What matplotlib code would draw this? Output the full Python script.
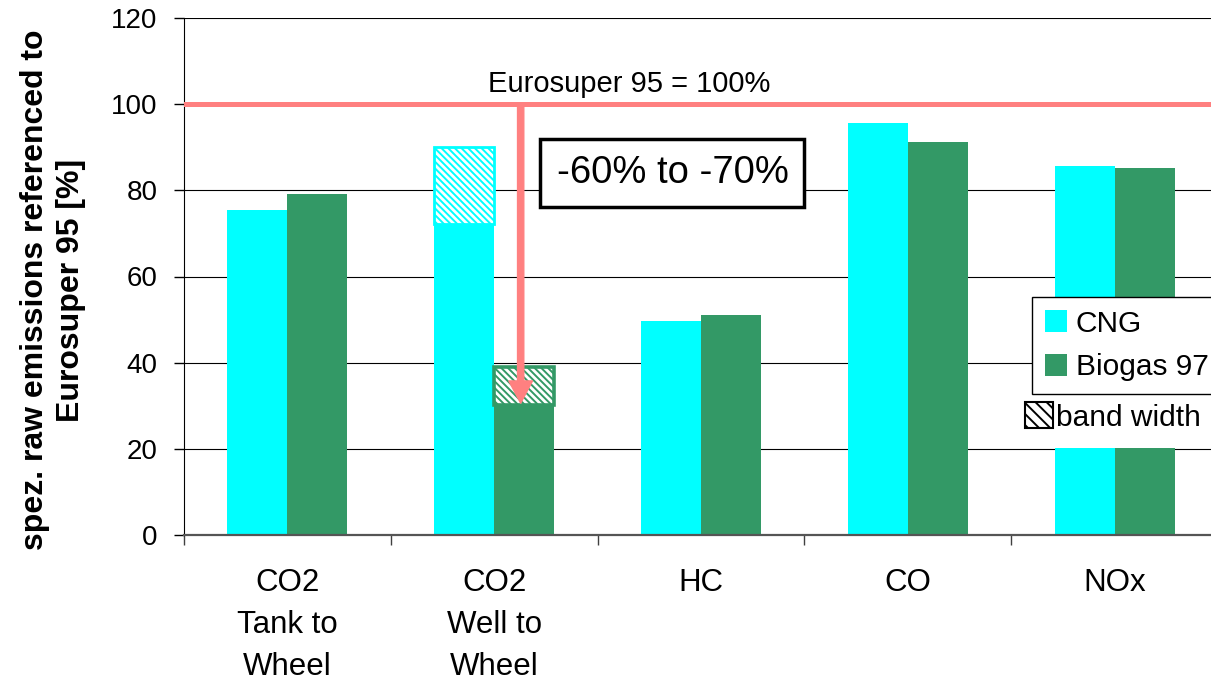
import matplotlib
matplotlib.use("Agg")
import matplotlib.pyplot as plt
from matplotlib.patches import Patch, Rectangle
import numpy as np

plt.rcParams['font.family'] = ['Liberation Sans', 'DejaVu Sans']
plt.rcParams['hatch.linewidth'] = 1.4

categories = ["CO2\nTank to\nWheel", "CO2\nWell to\nWheel", "HC", "CO", "NOx"]
cng_solid = [75.4, 72.2, 49.7, 95.6, 85.7]
cng_band = [0.0, 17.8, 0.0, 0.0, 0.0]
biogas_solid = [79.2, 30.2, 51.1, 91.2, 85.2]
biogas_band = [0.0, 8.8, 0.0, 0.0, 0.0]
yticks = [0, 20, 40, 60, 80, 100, 120]
reference_value = 100
arrow_tip = 30.6

CNG_C = '#00FFFF'
BIO_C = '#339966'
RED = '#FF8080'

W, H = 1211, 681
fig = plt.figure(figsize=(W / 100, H / 100), dpi=100)
ax = fig.add_axes([184 / W, (H - 535) / H, (1218 - 184) / W, (535 - 18) / H])

x = np.arange(len(categories))
bw = 0.29

ax.bar(x - bw / 2, cng_solid, bw, color=CNG_C, zorder=2)
ax.bar(x + bw / 2, biogas_solid, bw, color=BIO_C, zorder=2)
for i in range(len(categories)):
    if cng_band[i] > 0:
        ax.bar(x[i] - bw / 2, cng_band[i], bw, bottom=cng_solid[i], facecolor='white',
               edgecolor=CNG_C, hatch='\\\\\\\\\\', linewidth=2, zorder=2)
    if biogas_band[i] > 0:
        ax.bar(x[i] + bw / 2, biogas_band[i], bw, bottom=biogas_solid[i], facecolor='white',
               edgecolor=BIO_C, hatch='\\\\\\\\\\', linewidth=2.6, zorder=2)

ax.set_xlim(-0.5, len(categories) - 0.5)
ax.set_ylim(0, 120)
ax.set_yticks(yticks)
ax.set_yticklabels([str(v) for v in yticks], fontsize=20)
ax.set_xticks(x)
ax.set_xticklabels(categories, fontsize=22.5)
for t in ax.get_xticklabels():
    t.set_linespacing(1.52)
ax.set_xticks(np.arange(-0.5, len(categories), 1.0), minor=True)
ax.tick_params(axis='x', which='major', length=0, pad=24)
ax.tick_params(axis='x', which='minor', length=7, width=1, color='#404040', direction='out')
ax.tick_params(axis='y', length=7, width=1, direction='out', pad=12)

ax.grid(axis='y', color='black', linewidth=0.8)
ax.set_axisbelow(True)
for s in ['top', 'right']:
    ax.spines[s].set_visible(False)
ax.spines['left'].set_color('black')
ax.spines['bottom'].set_color('#555555')
ax.spines['bottom'].set_linewidth(1.6)

ax.set_ylabel("spez. raw emissions referenced to\nEurosuper 95 [%]", fontsize=23,
              fontweight='bold', linespacing=1.25)
ax.yaxis.set_label_coords((86 - 184) / (1218 - 184), 0.474)

# reference line and annotations
ax.axhline(reference_value, color=RED, linewidth=3.6, zorder=3)
ax.text(1.655, 101.5, "Eurosuper 95 = 100%", fontsize=21, ha='center', va='bottom', zorder=4)
ax.annotate('', xy=(1.128, arrow_tip), xytext=(1.128, reference_value),
            arrowprops=dict(facecolor=RED, edgecolor=RED, width=4.5, headwidth=17,
                            headlength=16, shrink=0), zorder=4)
ax.text(1.862, 84.0, "-60% to -70%", fontsize=27.5, ha='center', va='center', zorder=4,
        bbox=dict(boxstyle='square,pad=0.42', facecolor='white', edgecolor='black', linewidth=2.5))

# legend
LFS = 21.5
h1 = [Patch(facecolor=CNG_C, edgecolor='none'), Patch(facecolor=BIO_C, edgecolor='none')]
leg1 = ax.legend(h1, ['CNG', 'Biogas 97'], loc='upper left',
                 bbox_to_anchor=(1032 / W, 1 - 297 / H), bbox_transform=fig.transFigure,
                 fontsize=LFS, frameon=True, fancybox=False, framealpha=1, edgecolor='black',
                 borderaxespad=0, borderpad=0.42, labelspacing=0.52, handlelength=0.75,
                 handleheight=0.75, handletextpad=0.3)
leg1.get_frame().set_linewidth(1.0)
leg1.set_zorder(7)
ax.add_artist(leg1)

mask = Rectangle((1020 / W, 1 - 448 / H), (W - 1020) / W + 0.02, (448 - 380) / H,
                 transform=fig.transFigure, facecolor='white', edgecolor='none', zorder=6,
                 clip_on=False)
ax.add_patch(mask)

h2 = [Patch(facecolor='white', edgecolor='black', hatch='\\\\\\', linewidth=1.5)]
leg2 = ax.legend(h2, ['band width'], loc='center left',
                 bbox_to_anchor=(1025 / W, 1 - 417 / H), bbox_transform=fig.transFigure,
                 fontsize=LFS, frameon=False, borderaxespad=0, borderpad=0,
                 handlelength=0.95, handleheight=0.95, handletextpad=0.08)
leg2.set_zorder(7)

fig.savefig('out.png', dpi=100)
